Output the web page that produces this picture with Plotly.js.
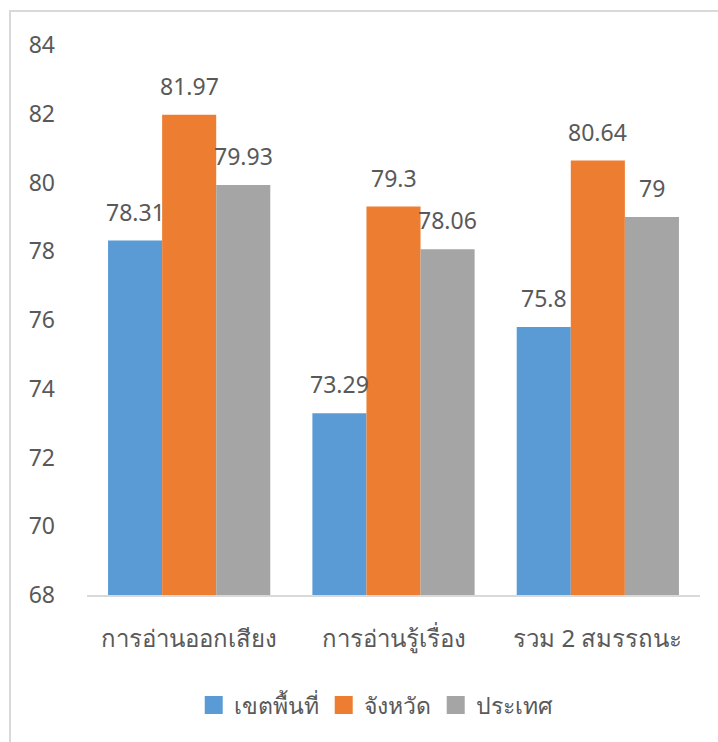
<!DOCTYPE html>
<html><head><meta charset="utf-8">
<script src="https://cdn.plot.ly/plotly-3.0.1.min.js"></script>
<style>
html,body{margin:0;padding:0;background:#fff;overflow:hidden}
#frame{position:absolute;left:9px;top:10px;width:740px;height:760px;border:2px solid #d9d9d9;box-sizing:border-box;pointer-events:none;z-index:5}
#chart{width:718px;height:742px}
</style></head>
<body>
<div id="frame"></div>
<div id="chart"></div>
<script>
var categories = ["การอ่านออกเสียง", "การอ่านรู้เรื่อง", "รวม 2 สมรรถนะ"];
var seriesNames = ["เขตพื้นที่", "จังหวัด", "ประเทศ"];
var area = [78.31, 73.29, 75.8];
var province = [81.97, 79.3, 80.64];
var country = [79.93, 78.06, 79];
var labelsArea = ["78.31", "73.29", "75.8"];
var labelsProvince = ["81.97", "79.3", "80.64"];
var labelsCountry = ["79.93", "78.06", "79"];
var colors = ["#5B9BD5", "#ED7D31", "#A5A5A5"];

var fontFam = "'Noto Sans', 'DejaVu Sans', sans-serif";
var values = [area, province, country];
var labels = [labelsArea, labelsProvince, labelsCountry];
var traces = values.map(function(v, i){
  return {type:'bar', name:seriesNames[i], x:categories, y:v, marker:{color:colors[i]}, hoverinfo:'none', showlegend:false};
});
// legend entries with larger square swatches
seriesNames.forEach(function(n, i){
  traces.push({type:'scatter', mode:'markers', name:n, x:[null], y:[null], legendgroup:'g'+i,
    marker:{symbol:'square', size:16, color:colors[i], line:{width:2, color:colors[i]}}, hoverinfo:'none'});
});
var annotations = [];
var shifts = [-54, 0, 54];
values.forEach(function(v, i){
  v.forEach(function(val, j){
    annotations.push({x:categories[j], y:val, text:labels[i][j], showarrow:false, xshift:shifts[i], yshift:29,
      font:{size:23, color:'#595959', family:fontFam}});
  });
});
var layout = {
  width:718, height:742,
  margin:{l:87, r:18, t:45, b:147},
  barmode:'group', bargap:0.206, bargroupgap:0,
  paper_bgcolor:'#fff', plot_bgcolor:'#fff',
  font:{family:fontFam, color:'#595959', size:22},
  xaxis:{showgrid:false, showline:true, linecolor:'#d9d9d9', linewidth:2, ticks:'', ticklabelstandoff:21, tickfont:{size:24, color:'#595959'}},
  yaxis:{range:[68,84], dtick:2, showgrid:false, zeroline:false, showline:false, ticks:'', ticklabelstandoff:31, tickfont:{size:23, color:'#595959'}},
  showlegend:true,
  legend:{orientation:'h', x:0.471, xanchor:'center', y:-0.2, yanchor:'middle', font:{size:23, color:'#595959'}, itemwidth:30, itemsizing:'trace', traceorder:'grouped', tracegroupgap:10},
  annotations:annotations
};
Plotly.newPlot('chart', traces, layout, {staticPlot:true});
</script>
</body></html>
